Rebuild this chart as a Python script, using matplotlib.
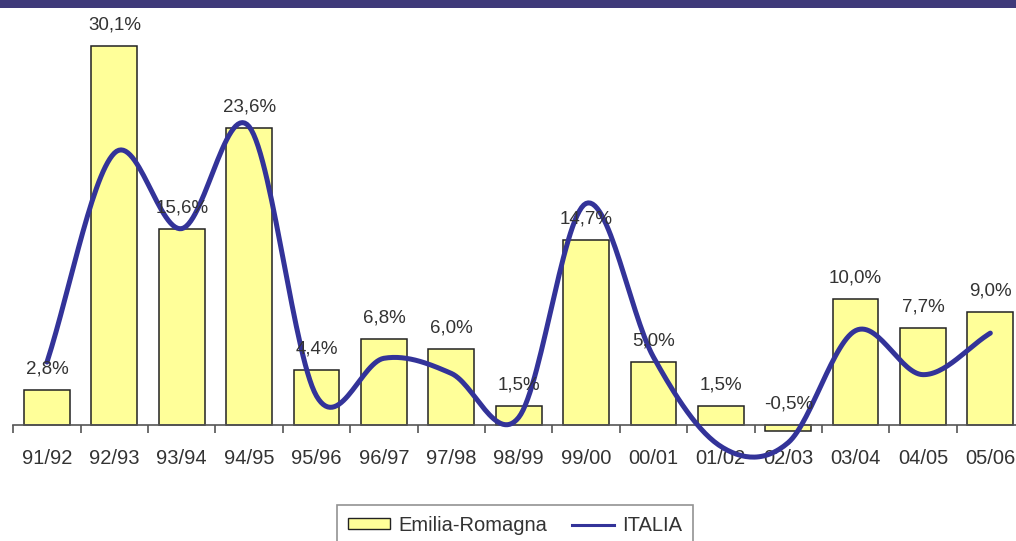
import numpy as np
import matplotlib
matplotlib.use("Agg")
import matplotlib.pyplot as plt
from matplotlib.patches import Patch
from matplotlib.lines import Line2D

# anni accademici e variazioni percentuali
anni = ["91/92", "92/93", "93/94", "94/95", "95/96", "96/97", "97/98", "98/99",
        "99/00", "00/01", "01/02", "02/03", "03/04", "04/05", "05/06"]
emilia_romagna = [2.8, 30.1, 15.6, 23.6, 4.4, 6.8, 6.0, 1.5,
                  14.7, 5.0, 1.5, -0.5, 10.0, 7.7, 9.0]
italia = [5.0, 21.6, 15.6, 23.7, 2.3, 5.3, 4.1, 0.6,
          17.6, 5.4, -1.7, -1.4, 7.5, 4.0, 7.3]

COLORS = {
    "bar": "#FFFF99",
    "edge": "#222222",
    "line": "#333399",
    "band": "#3F3A7A",
    "text": "#333333",
    "axis": "#555555",
}
FONT = "Liberation Sans"


def smooth_curve(y, steps=30):
    """Curva Catmull-Rom passante per i punti (linea 'smussata')."""
    y = np.asarray(y, dtype=float)
    n = len(y)
    pts = np.concatenate([[2 * y[0] - y[1]], y, [2 * y[-1] - y[-2]]])
    xs, ys = [], []
    t = np.linspace(0, 1, steps, endpoint=False)
    for i in range(n - 1):
        p0, p1, p2, p3 = pts[i], pts[i + 1], pts[i + 2], pts[i + 3]
        m1 = (p2 - p0) / 2
        m2 = (p3 - p1) / 2
        h00 = 2 * t**3 - 3 * t**2 + 1
        h10 = t**3 - 2 * t**2 + t
        h01 = -2 * t**3 + 3 * t**2
        h11 = t**3 - t**2
        ys.append(h00 * p1 + h10 * m1 + h01 * p2 + h11 * m2)
        xs.append(i + t)
    xs.append([n - 1])
    ys.append([y[-1]])
    return np.concatenate(xs), np.concatenate(ys)


fig = plt.figure(figsize=(10.16, 5.41), dpi=100)
fig.patch.set_facecolor("white")

# fascia superiore
fig.patches.append(plt.Rectangle((0, 1 - 8 / 541), 1, 8 / 541, transform=fig.transFigure,
                                 facecolor=COLORS["band"], edgecolor="none", zorder=0))

ax = fig.add_axes([0.0131, 0.2144, 0.9948, 0.733])
x = np.arange(len(anni))

ax.bar(x, emilia_romagna, width=0.68, color=COLORS["bar"],
       edgecolor=COLORS["edge"], linewidth=1.1, zorder=2, clip_on=False)

for xi, v in zip(x, emilia_romagna):
    ax.annotate(f"{v:.1f}%".replace(".", ","), (xi, max(v, 0)),
                xytext=(0, 9), textcoords="offset points",
                ha="center", va="bottom", fontsize=13.5,
                color=COLORS["text"], family=FONT, zorder=4)

cx, cy = smooth_curve(italia)
ax.plot(cx, cy, color=COLORS["line"], linewidth=3.6, solid_capstyle="round",
        zorder=3, clip_on=False)

ax.set_xlim(-0.5, len(anni) - 0.5)
ax.set_ylim(0, 31.5)

for s in ["top", "right", "left"]:
    ax.spines[s].set_visible(False)
ax.spines["bottom"].set_color(COLORS["axis"])
ax.spines["bottom"].set_linewidth(1.2)
ax.set_yticks([])

ax.set_xticks(np.arange(len(anni) + 1) - 0.5)
ax.set_xticklabels([])
ax.tick_params(axis="x", which="major", length=6, width=1.2, color=COLORS["axis"])
ax.set_xticks(x, minor=True)
ax.set_xticklabels(anni, minor=True, fontsize=14.5, color=COLORS["text"], family=FONT)
ax.tick_params(axis="x", which="minor", length=0, pad=17)

handles = [Patch(facecolor=COLORS["bar"], edgecolor=COLORS["edge"], linewidth=1.0),
           Line2D([0], [0], color=COLORS["line"], linewidth=2.2)]
leg = fig.legend(handles, ["Emilia-Romagna", "ITALIA"], loc="upper center",
                 bbox_to_anchor=(515 / 1016, 1 - 505 / 541), ncol=2, frameon=True,
                 fancybox=False, edgecolor="#777777",
                 prop={"family": FONT, "size": 14.5},
                 handlelength=2.1, handleheight=0.45, columnspacing=1.2,
                 handletextpad=0.4, borderpad=0.55, borderaxespad=0)
leg.get_frame().set_linewidth(1.2)
for t in leg.get_texts():
    t.set_color(COLORS["text"])

fig.savefig("out.png", dpi=100, facecolor="white")
